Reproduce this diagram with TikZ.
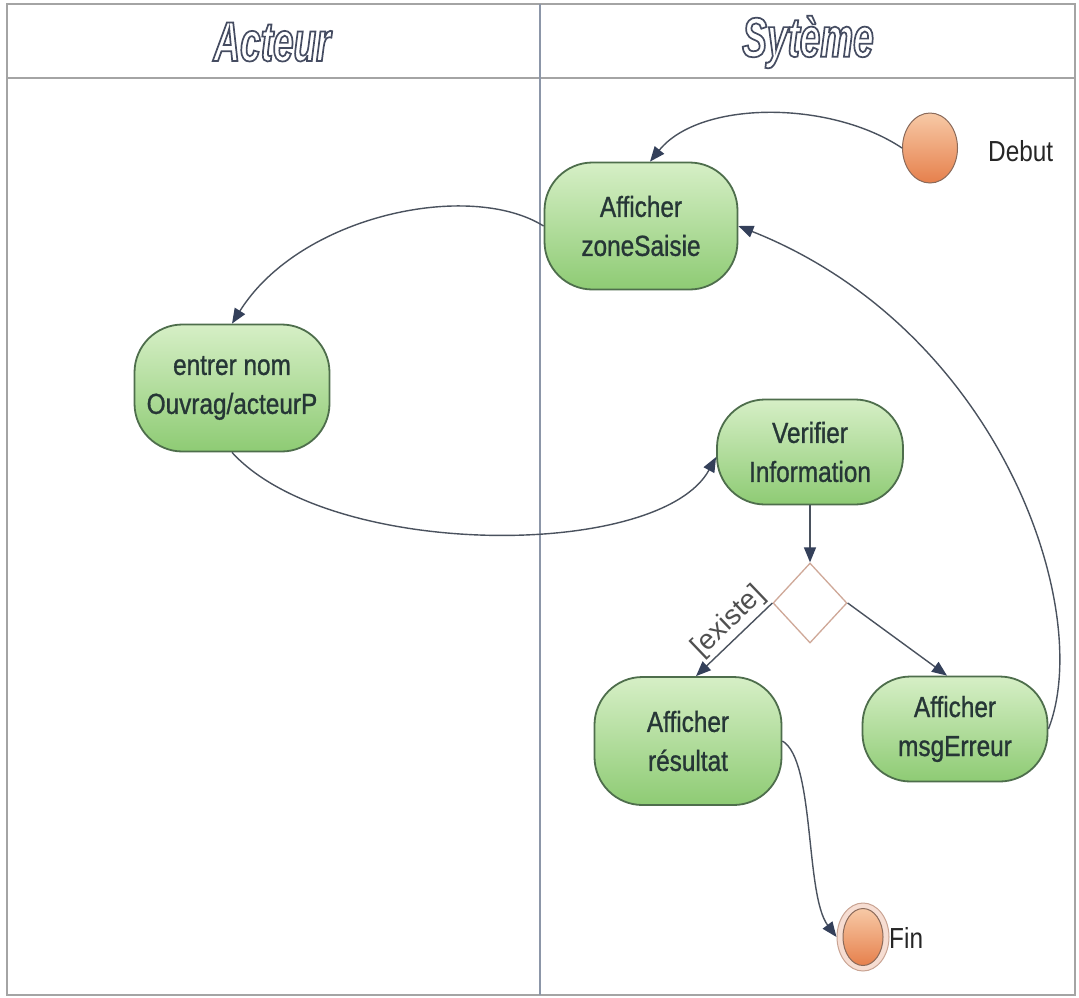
\documentclass[tikz,border=0pt]{standalone}
\usepackage{fontspec}
\usetikzlibrary{arrows.meta,shapes.geometric}
\newfontfamily\nodefont{Liberation Sans}[FakeStretch=0.84,FakeBold=1.0]
\newfontfamily\plainfont{Liberation Sans}[FakeStretch=0.84]
\newfontfamily\headfont{Liberation Sans}[FakeStretch=0.66]
\newfontfamily\lblfont{Liberation Sans}
\definecolor{framec}{HTML}{A4A4A4}
\definecolor{divc}{HTML}{8C96A8}
\definecolor{actborder}{HTML}{4E6E4C}
\definecolor{acttop}{HTML}{D6EFC6}
\definecolor{actbot}{HTML}{8ECB74}
\definecolor{acttext}{HTML}{263636}
\definecolor{linec}{HTML}{4A525E}
\definecolor{arrc}{HTML}{34405A}
\definecolor{orgtop}{HTML}{F7C9A6}
\definecolor{orgbot}{HTML}{E6804C}
\definecolor{orgborder}{HTML}{8A6A5A}
\definecolor{ringc}{HTML}{F6DDD2}
\definecolor{ringborder}{HTML}{C9A392}
\definecolor{diac}{HTML}{CFA898}
\definecolor{lblc}{HTML}{505050}
\newcommand{\outlinetext}[1]{\special{pdf:literal direct 1 Tr 1.7 w 0.27 0.30 0.38 RG}#1\special{pdf:literal direct 0 Tr}}
\tikzset{
  act/.style={draw=actborder, line width=1.8pt, rounded corners=48pt,
    top color=acttop, bottom color=actbot, align=center, inner sep=0pt,
    font=\nodefont\fontsize{29}{39}\selectfont, text=acttext},
  startend/.style={ellipse, draw=orgborder, line width=1pt, top color=orgtop, bottom color=orgbot, inner sep=0pt},
  conn/.style={draw=linec, line width=1.4pt, -{Triangle[length=15pt,width=12pt,color=arrc]}},
  plain/.style={font=\plainfont\fontsize{29}{34}\selectfont, text=black!85, inner sep=0pt},
  head/.style={font=\headfont\fontsize{56}{60}\selectfont\bfseries\itshape}
}
\begin{document}
\begin{tikzpicture}[x=1pt,y=-1pt]
\useasboundingbox (0,0) rectangle (1079,997);
\fill[white] (0,0) rectangle (1079,997);
% frame
\draw[framec, line width=2pt] (7,4) rectangle (1075,995);
\draw[framec, line width=2pt] (7,78) -- (1075,78);
\draw[divc, line width=1.5pt] (540,4) -- (540,995);
% headers
\node[head] (hA) at (272,42) {\outlinetext{Acteur}};
\node[head] (hS) at (808,42) {\outlinetext{Sytème}};
% activities
\node[act, minimum width=193pt, minimum height=127pt] (zs) at (641,226) {Afficher\\zoneSaisie};
\node[act, minimum width=195pt, minimum height=127pt] (en) at (232,388) {entrer nom\\Ouvrag/acteurP};
\node[act, minimum width=186pt, minimum height=105pt] (ver) at (810,452) {Verifier\\Information};
\node[act, minimum width=187pt, minimum height=128pt] (res) at (688,741) {Afficher\\résultat};
\node[act, minimum width=185pt, minimum height=105pt] (err) at (955,729) {Afficher\\msgErreur};
% decision
\node[diamond, draw=diac, line width=1.3pt, fill=white, minimum width=74pt, minimum height=80pt, inner sep=0pt] (dec) at (810,603) {};
% start
\node[startend, minimum width=55pt, minimum height=70pt] (deb) at (930,148) {};
\node[plain, anchor=west] (debt) at (988,151) {Debut};
% end
\node[ellipse, draw=ringborder, line width=1pt, fill=ringc, minimum width=52pt, minimum height=68pt, inner sep=0pt] (fino) at (863,937) {};
\node[startend, minimum width=40pt, minimum height=57pt] (fin) at (863,937) {};
\node[plain, anchor=west] (fint) at (889,938) {Fin};
% connectors
\draw[conn] (deb.west) .. controls (830,100) and (700,100) .. ([xshift=9pt]zs.north);
\draw[conn] (zs.west) .. controls (470,180) and (300,215) .. (en.north);
\draw[conn] (en.south) .. controls (330,560) and (660,560) .. ([yshift=-5pt]ver.west);
\draw[conn] (ver.south) -- (dec.north);
\draw[conn] (dec.west) -- ([xshift=8pt]res.north)
  node[pos=0.42, sloped, above=3pt, font=\lblfont\fontsize{28}{30}\selectfont, text=lblc, inner sep=0pt] (lbl) {[existe]};
\draw[conn] (dec.east) -- ([xshift=-8pt]err.north);
\draw[conn] (err.east) .. controls (1095,610) and (1000,330) .. (zs.east);
\draw[conn] (res.east) .. controls (815,760) and (805,895) .. (fino.west);
\end{tikzpicture}
\end{document}
